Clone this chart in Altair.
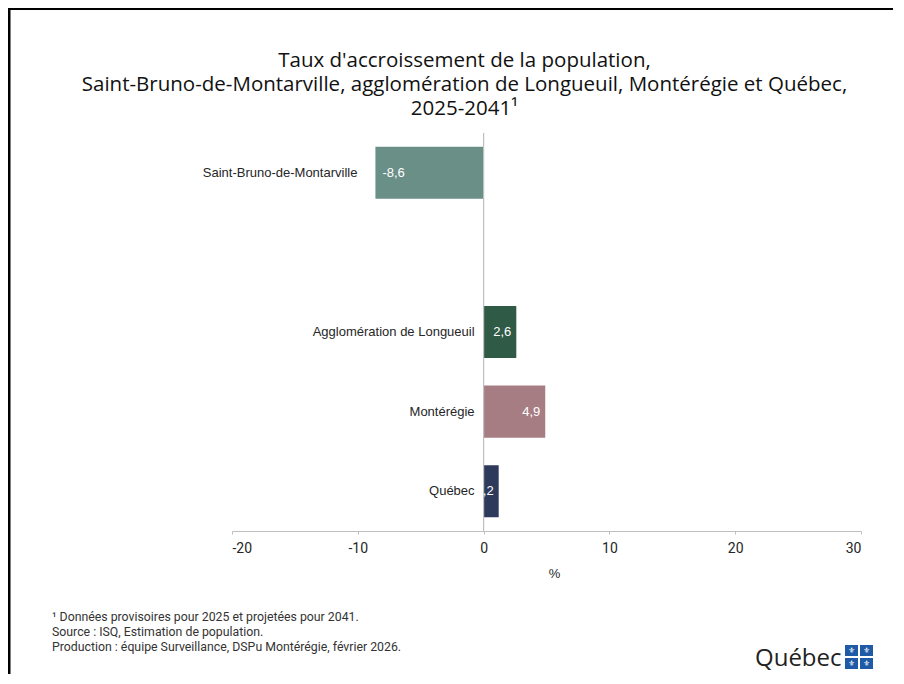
import altair as alt
import pandas as pd

# ---- data ----
regions = ["Saint-Bruno-de-Montarville", "Agglomération de Longueuil", "Montérégie", "Québec"]
values = [-8.6, 2.6, 4.9, 1.2]
bar_colors = ["#6a8f87", "#2f5a45", "#a77d84", "#2e3a5c"]
y_slots = [regions[0], " ", regions[1], regions[2], regions[3]]
x_ticks = [-20, -10, 0, 10, 20, 30]

title_lines = [
    "Taux d'accroissement de la population,",
    "Saint-Bruno-de-Montarville, agglomération de Longueuil, Montérégie et Québec,",
    "2025-2041\u00b9",
]
footnotes = [
    "\u00b9 Données provisoires pour 2025 et projetées pour 2041.",
    "Source : ISQ, Estimation de population.",
    "Production : équipe Surveillance, DSPu Montérégie, février 2026.",
]

df = pd.DataFrame({"region": regions, "value": values})
df["label"] = [f"{v:.1f}".replace(".", ",") for v in values]

NARROW = "Roboto, sans-serif"
SANS = "Liberation Sans, Arial, sans-serif"
W, H = 629, 398

xscale = alt.Scale(domain=[-20, 30], nice=False, zero=False)
yscale = alt.Scale(domain=y_slots, paddingInner=0.345, paddingOuter=0.1725)

base = alt.Chart(df)

bars = base.mark_bar().encode(
    x=alt.X("value:Q", scale=xscale,
            axis=alt.Axis(values=x_ticks, title="%", grid=False,
                          labelExpr="datum.value + ''",
                          domainColor="#bfbfbf", tickColor="#bfbfbf", tickSize=3,
                          labelFont=NARROW, labelFontSize=14, labelColor="#262626",
                          labelPadding=7, titleFont=SANS, titleFontSize=13,
                          titleFontWeight="normal", titleColor="#262626",
                          titlePadding=12, titleX=322, titleAlign="center")),
    y=alt.Y("region:N", scale=yscale, axis=None),
    color=alt.Color("region:N", scale=alt.Scale(domain=regions, range=bar_colors), legend=None),
)

zero_line = alt.Chart(pd.DataFrame({"z": [0]})).mark_rule(color="#bfbfbf", strokeWidth=1.2).encode(
    x=alt.X("z:Q", scale=xscale)
)

cat_neg = base.transform_filter("datum.value < 0").mark_text(
    align="right", baseline="middle", dx=-18, font=SANS, fontSize=13, color="#262626"
).encode(x="value:Q", y="region:N", text="region:N")

cat_pos = base.transform_filter("datum.value >= 0").mark_text(
    align="right", baseline="middle", dx=-9, font=SANS, fontSize=13, color="#262626"
).encode(x=alt.datum(0), y="region:N", text="region:N")

val_neg = base.transform_filter("datum.value < 0").mark_text(
    align="left", baseline="middle", dx=7, font=SANS, fontSize=13, color="white"
).encode(x="value:Q", y="region:N", text="label:N")

val_pos = base.transform_filter("datum.value >= 0").mark_text(
    align="right", baseline="middle", dx=-5, font=SANS, fontSize=13, color="white"
).encode(x="value:Q", y="region:N", text="label:N")

one = alt.Chart(pd.DataFrame({"k": [0]}))

title_mark = one.mark_text(
    align="center", baseline="middle", font="Open Sans, sans-serif", fontSize=20.5, color="#111111",
    lineBreak="\n", lineHeight=24
).encode(x=alt.value(232.5), y=alt.value(-72), text=alt.value("\n".join(title_lines)))

frame = one.mark_rect(fill=None, fillOpacity=0, stroke="black", strokeWidth=3).encode(
    x=alt.value(-223), x2=alt.value(W + 80), y=alt.value(-124.5), y2=alt.value(H + 200)
)

notes = one.mark_text(
    align="left", baseline="top", font=NARROW, fontSize=12.3, color="#333333",
    lineBreak="\n", lineHeight=15
).encode(x=alt.value(-180), y=alt.value(478), text=alt.value("\n".join(footnotes)))

logo_text = one.mark_text(
    align="left", baseline="alphabetic", font="Open Sans, sans-serif", fontSize=24, color="#222222"
).encode(x=alt.value(523), y=alt.value(533), text=alt.value("Québec"))

sq = []
for (sx, sy) in [(613, 512), (628, 512), (613, 525), (628, 525)]:
    sq.append(one.mark_rect(color="#1f5aa6").encode(
        x=alt.value(sx), x2=alt.value(sx + 13), y=alt.value(sy), y2=alt.value(sy + 11)))
    sq.append(one.mark_text(color="white", fontSize=8, baseline="middle", align="center",
                            font="DejaVu Sans").encode(
        x=alt.value(sx + 6.5), y=alt.value(sy + 5.5), text=alt.value("\u269c")))

chart = alt.layer(
    bars, zero_line, cat_neg, cat_pos, val_neg, val_pos,
    title_mark, frame, notes, logo_text, *sq
).properties(
    width=W, height=H,
    background="white",
    autosize=alt.AutoSizeParams(type="none"),
    padding={"left": 224, "top": 125, "right": 32, "bottom": 143},
).configure_view(stroke=None)

chart.save("out.html", embed_options={"renderer": "svg", "actions": False})
